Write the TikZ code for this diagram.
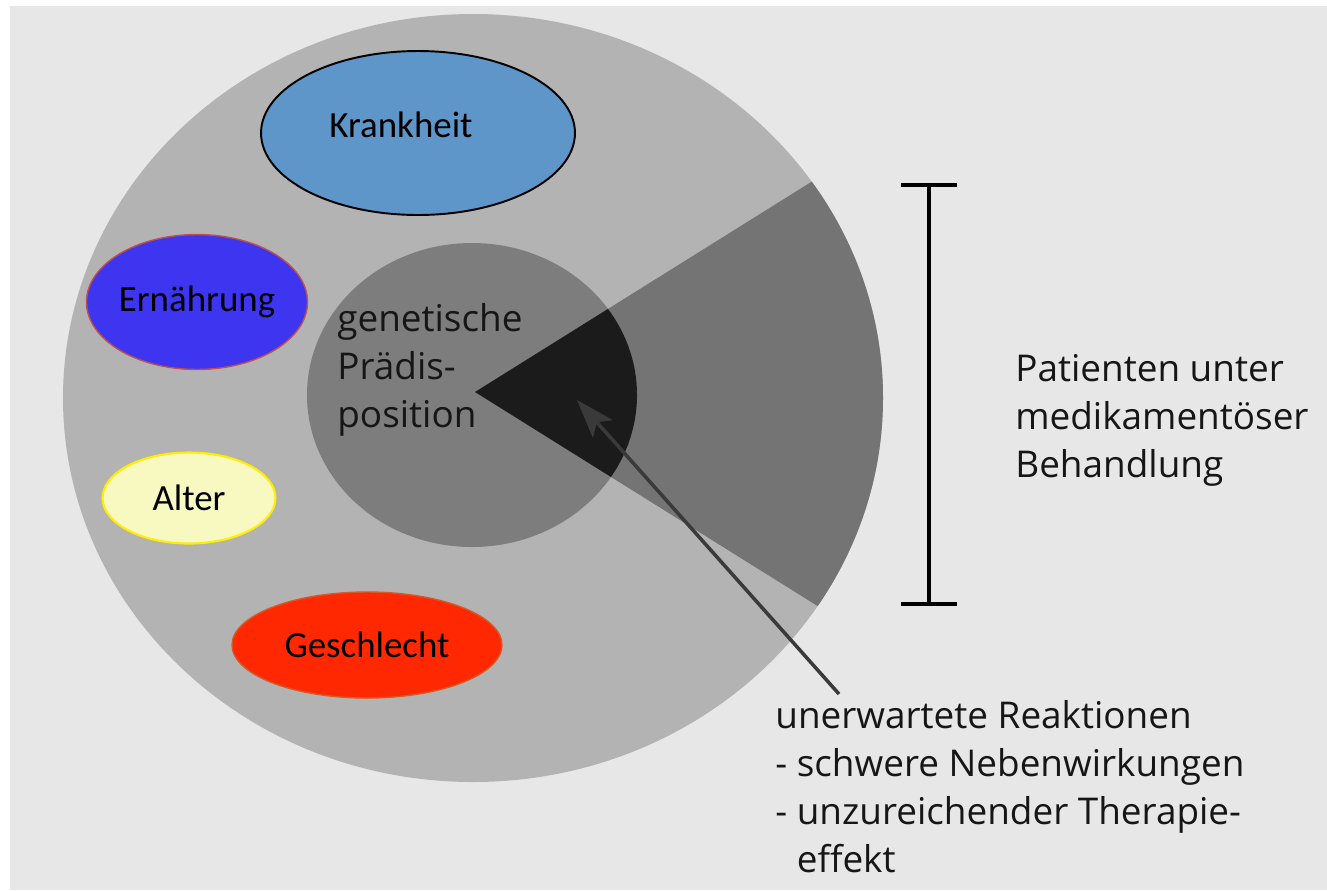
\documentclass[tikz,border=0pt]{standalone}
\usepackage{fontspec}
\setmainfont{Open Sans}
\newfontfamily\carlito{Carlito}
\usepackage{xcolor}
\usetikzlibrary{shapes.geometric, arrows.meta, positioning}

\definecolor{hintergrund}{HTML}{E7E7E7}
\definecolor{population}{HTML}{B3B3B3}
\definecolor{behandelt}{HTML}{747474}
\definecolor{anlage}{HTML}{7D7D7D}
\definecolor{risiko}{HTML}{1B1B1B}
\definecolor{textgrau}{HTML}{161616}
\definecolor{pfeilgrau}{HTML}{3A3A3A}
\definecolor{krankheitblau}{HTML}{5F96C9}
\definecolor{ernaehrungblau}{HTML}{3D35F0}
\definecolor{ernaehrungrand}{HTML}{C0504D}
\definecolor{altergelb}{HTML}{F8F9C0}
\definecolor{alterrand}{HTML}{FFEE00}
\definecolor{geschlechtrot}{HTML}{FF2800}
\definecolor{geschlechtrand}{HTML}{D45A2A}

\begin{document}
\begin{tikzpicture}[
    x=0.02cm, y=-0.02cm,
    faktor/.style={ellipse, inner sep=0pt, text=black, font=\carlito\fontsize{21}{25}\selectfont},
    beschriftung/.style={align=left, inner sep=0pt, text=textgrau, font=\fontsize{21}{27.3}\selectfont},
    klammer/.style={{Bar[width=32pt]}-{Bar[width=32pt]}, line width=2.3pt, draw=black},
    pfeil/.style={-{Stealth[length=22pt, width=15pt, inset=5pt]}, line width=2pt, draw=pfeilgrau}
]

\useasboundingbox (0,0) rectangle (1327,890);
\fill[white] (0,0) rectangle (1327,890);
\fill[hintergrund] (10,6) rectangle (1327,890);

\fill[population] (473,398) ellipse [x radius=410, y radius=384];
\begin{scope}
    \clip (473,398) ellipse [x radius=410, y radius=384];
    \fill[behandelt] (475,392) -- (984,74) -- (984,710) -- cycle;
\end{scope}
\fill[anlage] (472,395) ellipse [x radius=165, y radius=152];
\begin{scope}
    \clip (472,395) ellipse [x radius=165, y radius=152];
    \fill[risiko] (475,392) -- (984,74) -- (984,710) -- cycle;
\end{scope}

\node[faktor, fill=krankheitblau, draw=black, line width=1.1pt, minimum width=6.28cm, minimum height=3.28cm] (krankheit) at (418,133) {\raisebox{0.32cm}{Krankheit}\hspace*{0.68cm}};
\node[faktor, fill=ernaehrungblau, draw=ernaehrungrand, line width=0.8pt, minimum width=4.34cm, minimum height=2.7cm] (ernaehrung) at (197,302) {Ernährung};
\node[faktor, fill=altergelb, draw=alterrand, line width=1.2pt, minimum width=3.46cm, minimum height=1.82cm] (alter) at (189,498) {Alter};
\node[faktor, fill=geschlechtrot, draw=geschlechtrand, line width=0.8pt, minimum width=5.4cm, minimum height=2.12cm] (geschlecht) at (367,645) {Geschlecht};

\node[beschriftung, anchor=west] (praedisposition) at (337,370) {genetische\\Prädis-\\position};

\coordinate (klammeroben) at (929,183);
\coordinate (klammerunten) at (929,606);
\draw[klammer] (klammeroben) -- (klammerunten);
\node[beschriftung, anchor=west] (patienten) at (1015,420) {Patienten unter\\medikamentöser\\Behandlung};

\node[beschriftung, anchor=west] (reaktionen) at (775,787) {unerwartete Reaktionen\\- schwere Nebenwirkungen\\- unzureichender Therapie-\\\phantom{- }effekt};
\coordinate (pfeilstart) at (839,694);
\coordinate (pfeilspitze) at (577,400);
\draw[pfeil] (pfeilstart) -- (pfeilspitze);

\end{tikzpicture}
\end{document}
